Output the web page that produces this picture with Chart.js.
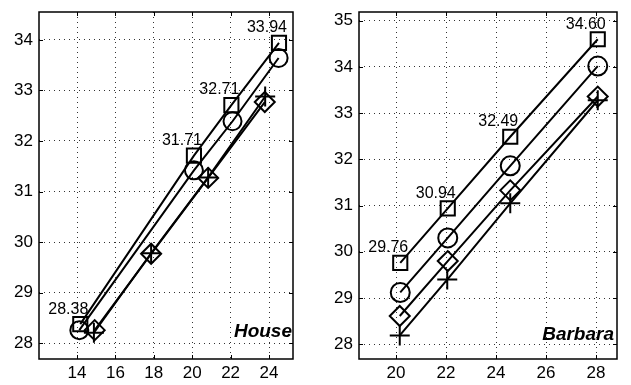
<!DOCTYPE html>
<html>
<head>
<meta charset="utf-8">
<script src="https://cdn.jsdelivr.net/npm/chart.js@4.4.0/dist/chart.umd.min.js"></script>
<style>
  html, body { margin: 0; padding: 0; background: #fff; }
  #wrap { position: relative; width: 631px; height: 385px; }
  #house { position: absolute; left: 0; top: 0; }
  #barbara { position: absolute; left: 315px; top: 0; }
</style>
</head>
<body>
<div id="wrap">
  <canvas id="house" width="315" height="385"></canvas>
  <canvas id="barbara" width="316" height="385"></canvas>
</div>
<script>
// House - rate (x) vs PSNR (y), four coders
var houseSquareX = [14.17, 20.09, 22.04, 24.52];
var houseSquareY = [28.38, 31.71, 32.71, 33.94];
var houseCircleX = [14.12, 20.09, 22.10, 24.50];
var houseCircleY = [28.26, 31.42, 32.39, 33.64];
var houseDiamondX = [14.92, 17.86, 20.83, 23.78];
var houseDiamondY = [28.26, 29.77, 31.27, 32.77];
var housePlusX = [14.88, 17.86, 20.83, 23.80];
var housePlusY = [28.21, 29.78, 31.28, 32.88];
var houseXTicks = [14, 16, 18, 20, 22, 24];
var houseYTicks = [28, 29, 30, 31, 32, 33, 34];

// Barbara
var barbaraSquareX = [20.17, 22.07, 24.57, 28.07];
var barbaraSquareY = [29.76, 30.94, 32.49, 34.60];
var barbaraCircleX = [20.17, 22.07, 24.57, 28.07];
var barbaraCircleY = [29.12, 30.30, 31.86, 34.02];
var barbaraDiamondX = [20.15, 22.07, 24.57, 28.07];
var barbaraDiamondY = [28.61, 29.80, 31.33, 33.36];
var barbaraPlusX = [20.15, 22.05, 24.57, 28.07];
var barbaraPlusY = [28.19, 29.40, 31.05, 33.28];
var barbaraXTicks = [20, 22, 24, 26, 28];
var barbaraYTicks = [28, 29, 30, 31, 32, 33, 34, 35];

Chart.defaults.font.family = '"Liberation Sans", Arial, Helvetica, sans-serif';
Chart.defaults.color = '#000';

function pts(xs, ys) {
  return xs.map(function(x, i) { return { x: x, y: ys[i] }; });
}

function series(xs, ys, style, r) {
  return {
    data: pts(xs, ys),
    showLine: true,
    borderColor: '#000',
    borderWidth: 2,
    backgroundColor: 'rgba(0,0,0,0)',
    pointStyle: style,
    pointRadius: r,
    pointHoverRadius: r,
    pointBorderColor: '#000',
    pointBackgroundColor: 'rgba(0,0,0,0)',
    pointBorderWidth: 2,
    fill: false,
    tension: 0
  };
}

// box, inner tick marks, value labels and the image name
function decorPlugin(name, labelsY, nameDx, nameDy) {
  return {
    id: 'decor',
    beforeDatasetsDraw: function(chart) {
      var ctx = chart.ctx, a = chart.chartArea;
      var xs = chart.scales.x, ys = chart.scales.y;
      ctx.save();
      ctx.strokeStyle = '#000';
      ctx.lineWidth = 1;
      xs.ticks.forEach(function(t) {
        var px = Math.round(xs.getPixelForValue(t.value)) + 0.5;
        ctx.beginPath();
        ctx.moveTo(px, a.bottom); ctx.lineTo(px, a.bottom - 4);
        ctx.moveTo(px, a.top); ctx.lineTo(px, a.top + 4);
        ctx.stroke();
      });
      ys.ticks.forEach(function(t) {
        var py = Math.round(ys.getPixelForValue(t.value)) + 0.5;
        ctx.beginPath();
        ctx.moveTo(a.left, py); ctx.lineTo(a.left + 4, py);
        ctx.moveTo(a.right, py); ctx.lineTo(a.right - 4, py);
        ctx.stroke();
      });
      ctx.lineWidth = 1.5;
      ctx.strokeRect(a.left, a.top, a.right - a.left, a.bottom - a.top);
      ctx.restore();
    },
    afterDatasetsDraw: function(chart) {
      var ctx = chart.ctx, a = chart.chartArea;
      var meta = chart.getDatasetMeta(0);
      ctx.save();
      ctx.fillStyle = '#000';
      ctx.font = '16px "Liberation Sans", Arial, sans-serif';
      ctx.textAlign = 'center';
      ctx.textBaseline = 'middle';
      meta.data.forEach(function(el, i) {
        ctx.fillText(labelsY[i].toFixed(2), el.x - 12, el.y - 15);
      });
      ctx.font = 'italic bold 19px "Liberation Sans", Arial, sans-serif';
      ctx.textAlign = 'right';
      ctx.textBaseline = 'alphabetic';
      ctx.fillText(name, a.right - nameDx, a.bottom - nameDy);
      ctx.restore();
    }
  };
}

function makeChart(id, cfg) {
  return new Chart(document.getElementById(id), {
    type: 'scatter',
    data: { datasets: cfg.datasets },
    options: {
      responsive: false,
      animation: false,
      layout: { padding: { left: 0, top: cfg.padTop, right: cfg.padRight, bottom: 0 } },
      plugins: { legend: { display: false }, tooltip: { enabled: false } },
      scales: {
        x: {
          type: 'linear',
          min: cfg.xMin,
          max: cfg.xMax,
          afterBuildTicks: function(s) { s.ticks = cfg.xTicks.map(function(v) { return { value: v }; }); },
          afterFit: function(s) { s.height = 26; s.paddingLeft = 0; s.paddingRight = 0; },
          grid: { color: 'rgba(0,0,0,0.8)', lineWidth: 1, drawTicks: false },
          border: { display: false, dash: [1, 4] },
          ticks: { padding: 4, font: { size: 17 }, maxRotation: 0, autoSkip: false }
        },
        y: {
          type: 'linear',
          min: cfg.yMin,
          max: cfg.yMax,
          afterBuildTicks: function(s) { s.ticks = cfg.yTicks.map(function(v) { return { value: v }; }); },
          afterFit: function(s) { s.width = cfg.yWidth; s.paddingTop = 0; s.paddingBottom = 0; },
          grid: { color: 'rgba(0,0,0,0.8)', lineWidth: 1, drawTicks: false },
          border: { display: false, dash: [1, 4] },
          ticks: { padding: 6, font: { size: 17 }, autoSkip: false }
        }
      }
    },
    plugins: [decorPlugin(cfg.name, cfg.labelsY, cfg.nameDx, cfg.nameDy)]
  });
}

makeChart('house', {
  name: 'House',
  labelsY: houseSquareY,
  nameDx: 1, nameDy: 22,
  xMin: 12.02, xMax: 25.25, yMin: 27.69, yMax: 34.55,
  xTicks: houseXTicks, yTicks: houseYTicks,
  yWidth: 39, padTop: 8, padRight: 22,
  datasets: [
    series(houseSquareX, houseSquareY, 'rect', 10),
    series(houseCircleX, houseCircleY, 'circle', 9),
    series(houseDiamondX, houseDiamondY, 'rectRot', 10),
    series(housePlusX, housePlusY, 'cross', 10)
  ]
});

makeChart('barbara', {
  name: 'Barbara',
  labelsY: barbaraSquareY,
  nameDx: 3, nameDy: 19,
  xMin: 18.52, xMax: 28.84, yMin: 27.68, yMax: 35.19,
  xTicks: barbaraXTicks, yTicks: barbaraYTicks,
  yWidth: 44, padTop: 3, padRight: 14,
  datasets: [
    series(barbaraSquareX, barbaraSquareY, 'rect', 10),
    series(barbaraCircleX, barbaraCircleY, 'circle', 9.5),
    series(barbaraDiamondX, barbaraDiamondY, 'rectRot', 10),
    series(barbaraPlusX, barbaraPlusY, 'cross', 10)
  ]
});
</script>
</body>
</html>
